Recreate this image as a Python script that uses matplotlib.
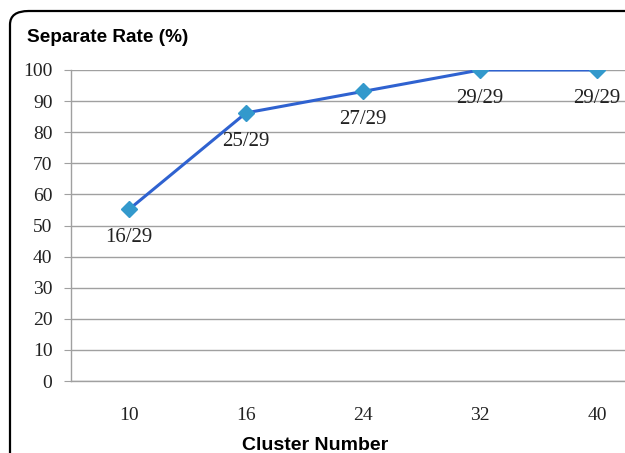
import matplotlib.pyplot as plt
from matplotlib.patches import FancyBboxPatch

clusters = ['10', '16', '24', '32', '40']
rates = [16 / 29 * 100, 25 / 29 * 100, 27 / 29 * 100, 100.0, 100.0]
point_labels = ['16/29', '25/29', '27/29', '29/29', '29/29']

fig = plt.figure(figsize=(6.25, 4.53), dpi=100)

# rounded chart frame, runs off the right and bottom edges like the original
frame = FancyBboxPatch((10 / 625, -0.2), 1.2, (453 - 11) / 453 + 0.2,
                       boxstyle='round,pad=0,rounding_size=0.03',
                       transform=fig.transFigure, fill=False,
                       edgecolor='black', linewidth=1.6, zorder=0)
fig.patches.append(frame)

ax = fig.add_axes([70.5 / 625, 72 / 453, 585 / 625, 311 / 453])
x = range(len(clusters))
ax.plot(x, rates, color='#2f62d0', linewidth=2.2, zorder=3)
ax.plot(x, rates, linestyle='none', marker='D', markersize=8.5,
        color='#3399cc', zorder=4)

for xi, yi, lab in zip(x, rates, point_labels):
    ax.annotate(lab, (xi, yi), xytext=(0, -13.5), textcoords='offset points',
                ha='center', va='top', fontsize=15,
                family='Liberation Serif', color='#222222')

ax.set_xlim(-0.5, 4.5)
ax.set_ylim(0, 100)
ax.set_yticks(range(0, 101, 10))
ax.set_xticks(list(x))
ax.set_xticklabels(clusters)
for lab in ax.get_xticklabels() + ax.get_yticklabels():
    lab.set_family('Liberation Serif')
    lab.set_fontsize(14)
    lab.set_color('#222222')

ax.grid(axis='y', color='#a0a0a0', linewidth=1.0)
ax.set_axisbelow(True)
for side in ['top', 'right']:
    ax.spines[side].set_visible(False)
for side in ['left', 'bottom']:
    ax.spines[side].set_color('#a0a0a0')
    ax.spines[side].set_linewidth(1.0)
ax.tick_params(axis='y', length=5, color='#a0a0a0', pad=8)
ax.tick_params(axis='x', length=0, pad=19)

fig.text(27 / 625, 1 - 37 / 453, 'Separate Rate (%)', fontsize=13.7,
         fontweight='bold', family='Liberation Sans', va='center')
fig.text(315 / 625, 1 - 446 / 453, 'Cluster Number', fontsize=14,
         fontweight='bold', family='Liberation Sans', ha='center', va='center')

fig.savefig('out.png', dpi=100)
